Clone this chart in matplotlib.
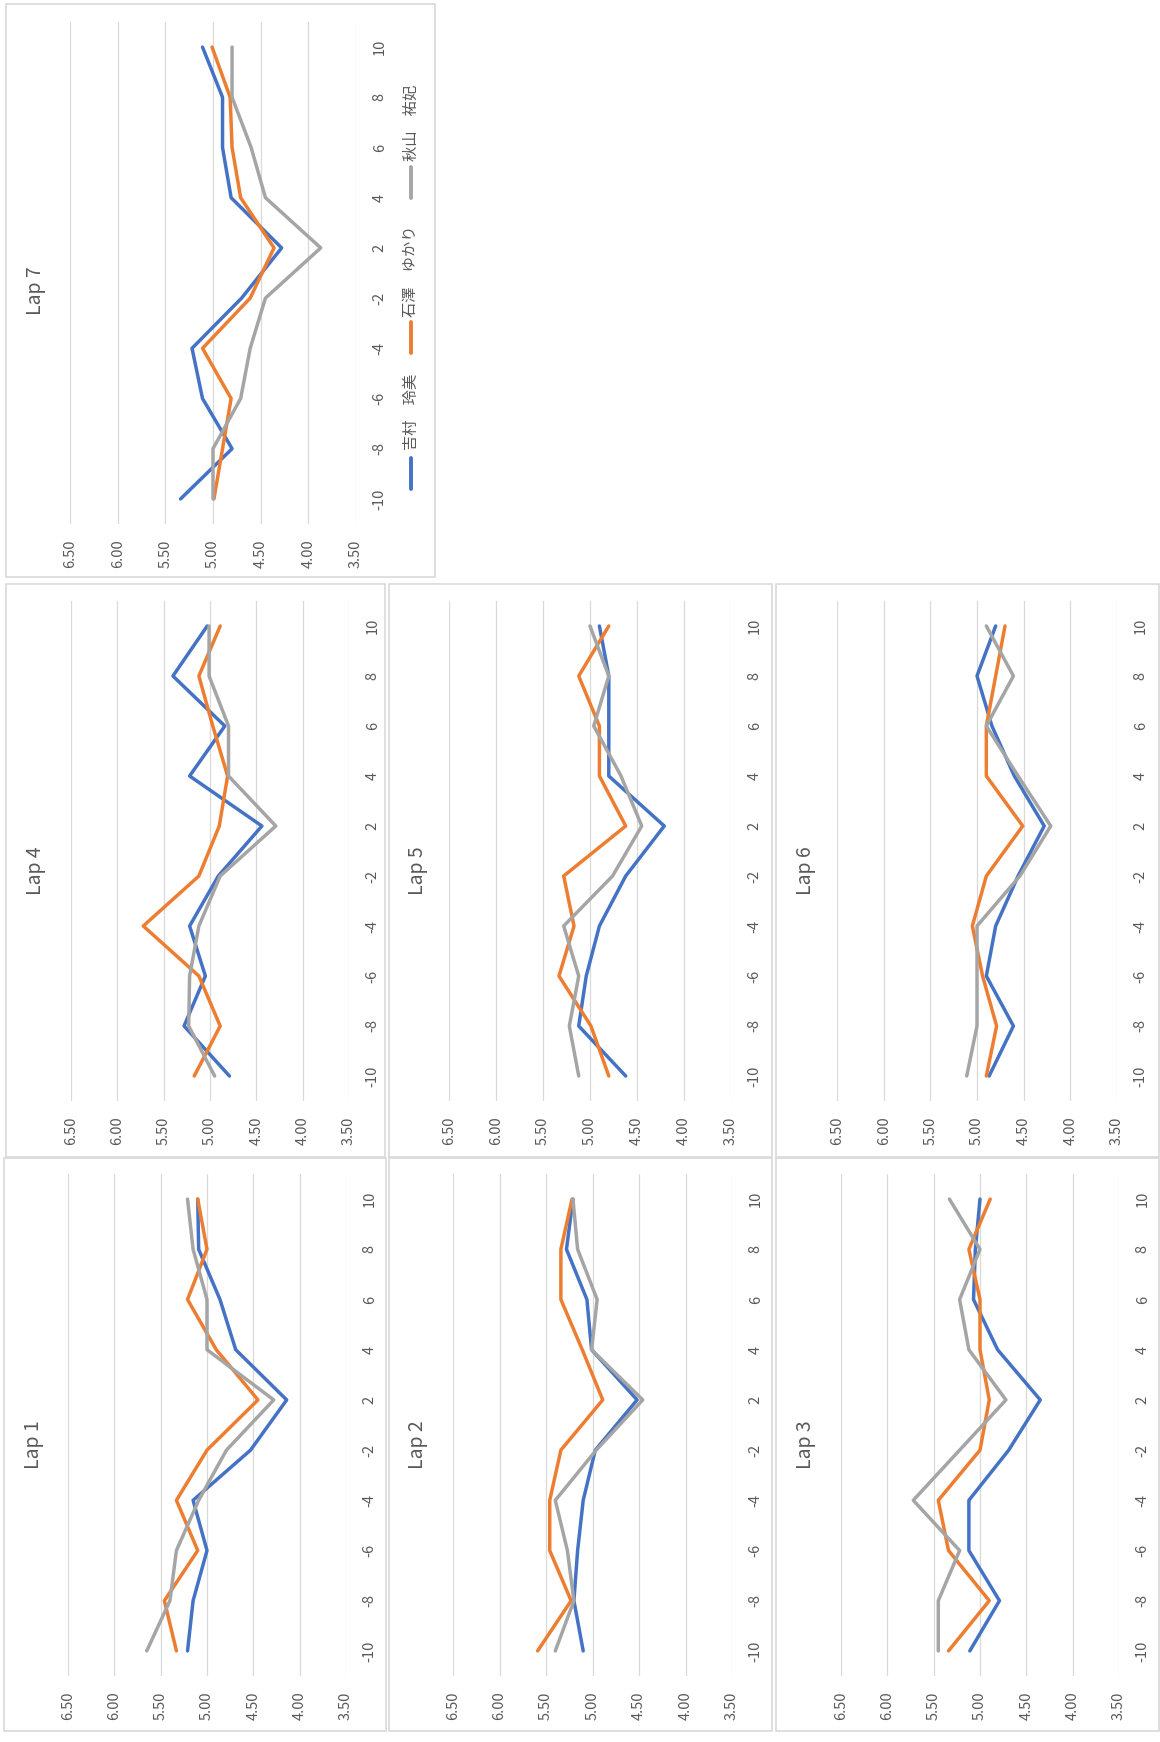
import matplotlib
matplotlib.use("Agg")
import matplotlib.pyplot as plt
from matplotlib.lines import Line2D
from matplotlib.patches import Rectangle

plt.rcParams['font.family'] = ['Noto Sans CJK JP', 'DejaVu Sans']

# カテゴリ（距離）と値軸
categories = ['-10', '-8', '-6', '-4', '-2', '2', '4', '6', '8', '10']
value_ticks = [3.5, 4.0, 4.5, 5.0, 5.5, 6.0, 6.5]
names = ['吉村　玲美', '石澤　ゆかり', '秋山　祐妃']
colors = ['#4472C4', '#ED7D31', '#A5A5A5']

# Lap ごとのデータ（吉村, 石澤, 秋山）
lap1_yoshimura = [5.21, 5.15, 5.00, 5.15, 4.53, 4.14, 4.69, 4.86, 5.09, 5.10]
lap1_ishizawa = [5.33, 5.46, 5.10, 5.33, 5.00, 4.45, 4.90, 5.21, 5.00, 5.10]
lap1_akiyama = [5.65, 5.40, 5.33, 5.09, 4.79, 4.28, 5.00, 5.00, 5.15, 5.21]

lap2_yoshimura = [5.10, 5.20, 5.16, 5.10, 4.97, 4.52, 5.01, 5.06, 5.28, 5.21]
lap2_ishizawa = [5.59, 5.23, 5.46, 5.46, 5.34, 4.89, 5.11, 5.34, 5.34, 5.22]
lap2_akiyama = [5.40, 5.20, 5.27, 5.40, 4.96, 4.46, 5.01, 4.95, 5.16, 5.21]

lap3_yoshimura = [5.11, 4.79, 5.12, 5.12, 4.69, 4.35, 4.81, 5.07, 5.05, 5.00]
lap3_ishizawa = [5.34, 4.90, 5.34, 5.45, 5.00, 4.90, 5.00, 5.00, 5.12, 4.89]
lap3_akiyama = [5.45, 5.45, 5.22, 5.72, 5.22, 4.72, 5.12, 5.22, 5.00, 5.33]

lap4_yoshimura = [4.79, 5.28, 5.05, 5.22, 4.91, 4.44, 5.22, 4.84, 5.40, 5.03]
lap4_ishizawa = [5.17, 4.89, 5.12, 5.72, 5.12, 4.90, 4.81, 4.97, 5.12, 4.89]
lap4_akiyama = [4.95, 5.23, 5.22, 5.12, 4.89, 4.29, 4.80, 4.80, 5.01, 5.01]

lap5_yoshimura = [4.62, 5.12, 5.04, 4.90, 4.62, 4.21, 4.80, 4.80, 4.80, 4.90]
lap5_ishizawa = [4.80, 4.99, 5.33, 5.17, 5.28, 4.62, 4.90, 4.90, 5.12, 4.80]
lap5_akiyama = [5.12, 5.22, 5.12, 5.28, 4.76, 4.45, 4.67, 4.96, 4.80, 5.00]

lap6_yoshimura = [4.87, 4.61, 4.90, 4.80, 4.56, 4.28, 4.60, 4.84, 5.00, 4.80]
lap6_ishizawa = [4.90, 4.79, 4.94, 5.05, 4.90, 4.51, 4.90, 4.90, 4.80, 4.70]
lap6_akiyama = [5.11, 5.00, 5.00, 5.00, 4.54, 4.21, 4.56, 4.90, 4.61, 4.90]

lap7_yoshimura = [5.34, 4.80, 5.11, 5.22, 4.70, 4.28, 4.81, 4.90, 4.90, 5.11]
lap7_ishizawa = [4.99, 4.90, 4.81, 5.11, 4.61, 4.36, 4.71, 4.80, 4.82, 5.01]
lap7_akiyama = [5.00, 5.00, 4.71, 4.61, 4.45, 3.87, 4.45, 4.60, 4.80, 4.80]

laps = {
    'Lap 1': [lap1_yoshimura, lap1_ishizawa, lap1_akiyama],
    'Lap 2': [lap2_yoshimura, lap2_ishizawa, lap2_akiyama],
    'Lap 3': [lap3_yoshimura, lap3_ishizawa, lap3_akiyama],
    'Lap 4': [lap4_yoshimura, lap4_ishizawa, lap4_akiyama],
    'Lap 5': [lap5_yoshimura, lap5_ishizawa, lap5_akiyama],
    'Lap 6': [lap6_yoshimura, lap6_ishizawa, lap6_akiyama],
    'Lap 7': [lap7_yoshimura, lap7_ishizawa, lap7_akiyama],
}

# 画面上の配置（ピクセル）: 枠 (左, 上, 右, 下), プロット領域 (左, 右, 上, 下)
W, H = 1160, 1742
layout = {
    'Lap 7': ((6, 4, 435, 577), (70, 356, 22, 524)),
    'Lap 4': ((6, 584, 385, 1157), (71, 349, 601, 1101)),
    'Lap 5': ((389, 584, 772, 1157), (449, 731, 601, 1101)),
    'Lap 6': ((776, 584, 1159, 1157), (837, 1117, 601, 1101)),
    'Lap 1': ((4, 1158, 386, 1731), (68, 346, 1174, 1676)),
    'Lap 2': ((389, 1158, 772, 1731), (453, 732, 1174, 1676)),
    'Lap 3': ((776, 1158, 1159, 1731), (841, 1119, 1174, 1676)),
}

GRID = '#D9D9D9'
TXT = '#595959'


def fx(x):
    return x / W


def fy(y):
    return 1 - y / H


fig = plt.figure(figsize=(W / 100, H / 100), dpi=100)

for title, series in laps.items():
    box, area = layout[title]
    bl, bt, br, bb = box
    fig.add_artist(Rectangle((fx(bl), fy(bb)), (br - bl) / W, (bb - bt) / H,
                             transform=fig.transFigure, facecolor='white',
                             edgecolor=GRID, lw=1.2, zorder=0))
    al, ar, at, ab = area
    ax = fig.add_axes([fx(al), fy(ab), (ar - al) / W, (ab - at) / H])
    ax.set_facecolor('none')
    pos = list(range(len(categories)))
    for vals, c in zip(series, colors):
        ax.plot(vals, pos, color=c, lw=2.5, solid_capstyle='round',
                solid_joinstyle='round', zorder=3)
    for v in value_ticks:
        ax.axvline(v, color=GRID, lw=0.9, zorder=1)
    ax.set_xlim(6.5, 3.5)
    ax.set_ylim(-0.5, len(categories) - 0.5)
    ax.set_xticks(value_ticks)
    ax.set_xticklabels(['%.2f' % v for v in value_ticks], rotation=90,
                       fontsize=10.5, color=TXT)
    ax.set_yticks(pos)
    ax.set_yticklabels(categories, rotation=90, fontsize=10.5, color=TXT,
                       va='center')
    ax.yaxis.tick_right()
    ax.tick_params(axis='x', length=0, pad=11)
    ax.tick_params(axis='y', length=0, pad=12)
    for s in ax.spines.values():
        s.set_visible(False)
    fig.text(fx(bl + 29), fy((bt + bb) / 2), title, rotation=90,
             fontsize=14, color=TXT, ha='center', va='center')

# Lap 7 の凡例（縦向き）
leg_marks = [(458, 489), (322, 353), (167, 198)]
leg_text_start = [450, 317, 161]
for name, c, (m0, m1), t0 in zip(names, colors, leg_marks, leg_text_start):
    fig.add_artist(Line2D([fx(411), fx(411)], [fy(m1), fy(m0)],
                          transform=fig.transFigure, color=c, lw=2.8,
                          solid_capstyle='round'))
    fig.text(fx(411), fy(t0), name, rotation=90, fontsize=11, color=TXT,
             ha='center', va='bottom')

fig.savefig('out.png', dpi=100, facecolor='white')
